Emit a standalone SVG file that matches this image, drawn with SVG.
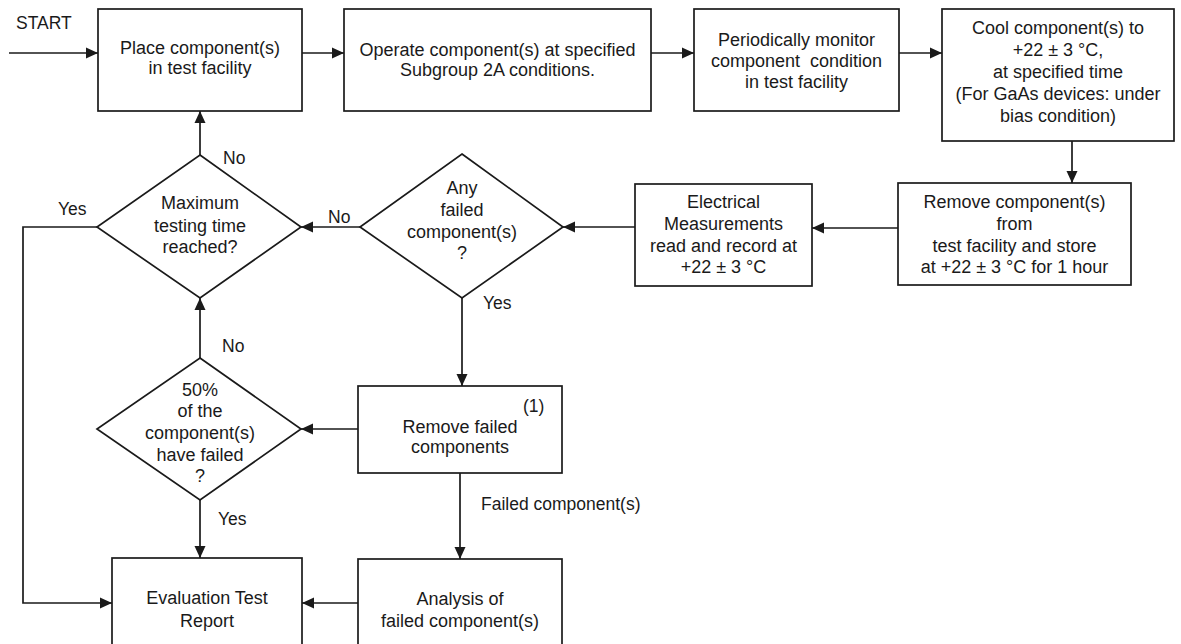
<svg xmlns="http://www.w3.org/2000/svg" width="1181" height="644" viewBox="0 0 1181 644">
<defs>
<style>
.box{fill:#fff;stroke:#1a1a1a;stroke-width:1.7}
.t{font-family:"Liberation Sans",Arial,sans-serif;font-size:18px;fill:#1a1a1a;text-anchor:middle}
.l{font-family:"Liberation Sans",Arial,sans-serif;font-size:17.5px;fill:#1a1a1a}
.c{fill:none;stroke:#1a1a1a;stroke-width:1.7;marker-end:url(#ah)}
</style>
<marker id="ah" markerUnits="userSpaceOnUse" markerWidth="12" markerHeight="12" refX="12" refY="6" orient="auto" viewBox="0 0 12 12">
<path d="M0,0.5 L12,6 L0,11.5 z" fill="#1a1a1a"/>
</marker>
</defs>
<rect width="1181" height="644" fill="#fff"/>
<g id="connectors">
<path class="c" d="M9,53 H98"/>
<path class="c" d="M302,53 H344"/>
<path class="c" d="M651,53 H694"/>
<path class="c" d="M899,53 H942"/>
<path class="c" d="M1072,141 V183"/>
<path class="c" d="M898,228 H812"/>
<path class="c" d="M635,227 H563"/>
<path class="c" d="M360,227 H301"/>
<path class="c" d="M200,155 V111"/>
<path class="c" d="M97,227 H23 V603 H112"/>
<path class="c" d="M462,298 V386"/>
<path class="c" d="M358,429 H301"/>
<path class="c" d="M200,358 V298"/>
<path class="c" d="M200,500 V558"/>
<path class="c" d="M460,473 V559"/>
<path class="c" d="M358,603 H302"/>
</g>
<g id="labels">
<text class="l" x="16" y="29">START</text>
<text class="l" x="223" y="164">No</text>
<text class="l" x="58" y="215">Yes</text>
<text class="l" x="328" y="223">No</text>
<text class="l" x="483" y="309">Yes</text>
<text class="l" x="222" y="352">No</text>
<text class="l" x="218" y="525">Yes</text>
<text class="l" x="481" y="510">Failed component(s)</text>
</g>
<g id="place">
<rect class="box" x="98" y="9" width="204" height="102"/>
<text class="t" x="200" y="54">Place component(s)</text>
<text class="t" x="200" y="74">in test facility</text>
</g>
<g id="operate">
<rect class="box" x="344" y="9" width="307" height="102"/>
<text class="t" x="497.5" y="56">Operate component(s) at specified</text>
<text class="t" x="497.5" y="76">Subgroup 2A conditions.</text>
</g>
<g id="monitor">
<rect class="box" x="694" y="9" width="205" height="102"/>
<text class="t" x="796.5" y="46">Periodically monitor</text>
<text class="t" x="796.5" y="67" xml:space="preserve">component  condition</text>
<text class="t" x="796.5" y="88">in test facility</text>
</g>
<g id="cool">
<rect class="box" x="942" y="9" width="232" height="132"/>
<text class="t" x="1058" y="34">Cool component(s) to</text>
<text class="t" x="1058" y="56">+22 ± 3 °C,</text>
<text class="t" x="1058" y="78">at specified time</text>
<text class="t" x="1058" y="100">(For GaAs devices: under</text>
<text class="t" x="1058" y="122">bias condition)</text>
</g>
<g id="remove">
<rect class="box" x="898" y="183" width="233" height="102"/>
<text class="t" x="1014.5" y="208">Remove component(s)</text>
<text class="t" x="1014.5" y="230">from</text>
<text class="t" x="1014.5" y="252">test facility and store</text>
<text class="t" x="1014.5" y="273">at  +22 ± 3 °C for 1 hour</text>
</g>
<g id="electrical">
<rect class="box" x="635" y="184" width="177" height="102"/>
<text class="t" x="723.5" y="208">Electrical</text>
<text class="t" x="723.5" y="230">Measurements</text>
<text class="t" x="723.5" y="252">read and record at</text>
<text class="t" x="723.5" y="273">+22 ± 3 °C</text>
</g>
<g id="anyfailed">
<polygon class="box" points="462,154 563,227 462,298 360,227"/>
<text class="t" x="462" y="194">Any</text>
<text class="t" x="462" y="216">failed</text>
<text class="t" x="462" y="238">component(s)</text>
<text class="t" x="462" y="259">?</text>
</g>
<g id="maxtime">
<polygon class="box" points="200,155 301,227 200,298 97,227"/>
<text class="t" x="200" y="209">Maximum</text>
<text class="t" x="200" y="232">testing time</text>
<text class="t" x="200" y="253">reached?</text>
</g>
<g id="fifty">
<polygon class="box" points="200,358 301,429 200,500 97,429"/>
<text class="t" x="200" y="396">50%</text>
<text class="t" x="200" y="417">of the</text>
<text class="t" x="200" y="439">component(s)</text>
<text class="t" x="200" y="461">have failed</text>
<text class="t" x="200" y="482">?</text>
</g>
<g id="removefailed">
<rect class="box" x="358" y="386" width="204" height="87"/>
<text class="l" x="523" y="412">(1)</text>
<text class="t" x="460" y="433">Remove failed</text>
<text class="t" x="460" y="453">components</text>
</g>
<g id="analysis">
<rect class="box" x="358" y="559" width="204" height="100"/>
<text class="t" x="460" y="605">Analysis of</text>
<text class="t" x="460" y="627">failed component(s)</text>
</g>
<g id="evaluation">
<rect class="box" x="112" y="558" width="190" height="100"/>
<text class="t" x="207" y="604">Evaluation Test</text>
<text class="t" x="207" y="627">Report</text>
</g>
</svg>
